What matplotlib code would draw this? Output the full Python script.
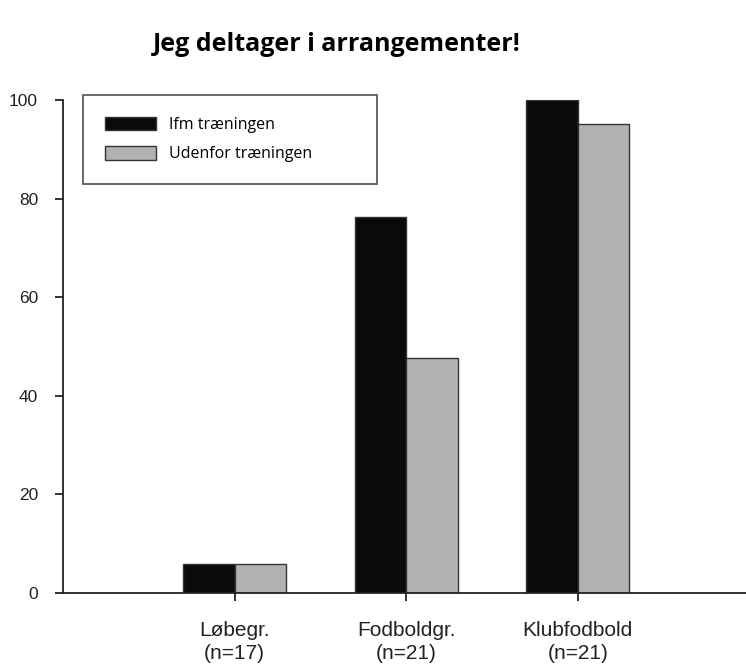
import matplotlib
matplotlib.use("Agg")
import matplotlib.pyplot as plt
import numpy as np

categories = ["Løbegr.\n(n=17)", "Fodboldgr.\n(n=21)", "Klubfodbold\n(n=21)"]
ifm = [5.9, 76.2, 100.0]
udenfor = [5.9, 47.6, 95.2]
series_names = ["Ifm træningen", "Udenfor træningen"]
yticks = [0, 20, 40, 60, 80, 100]

fig = plt.figure(figsize=(7.46, 6.70), dpi=100)
ax = fig.add_axes([63/746, 1-593/670, 1-63/746, 493/670])

x = np.arange(1, len(categories)+1)
w = 0.30
ax.bar(x - w/2, ifm, w, color="#0a0a0a", edgecolor="#333333", linewidth=1, label=series_names[0])
ax.bar(x + w/2, udenfor, w, color="#b2b2b2", edgecolor="#333333", linewidth=1, label=series_names[1])

ax.set_xlim(0, 3.98)
ax.set_ylim(0, 100)
ax.set_xticks(x)
ax.set_xticklabels(categories, fontsize=15, family="Liberation Sans", linespacing=1.3)
ax.set_yticks(yticks)
ax.set_yticklabels([str(v) for v in yticks], fontsize=12.5, family="Liberation Sans")
for s in ["top", "right"]:
    ax.spines[s].set_visible(False)
for s in ["left", "bottom"]:
    ax.spines[s].set_linewidth(1.3)
    ax.spines[s].set_color("#222222")
ax.tick_params(axis="y", direction="out", length=6, width=1.3, pad=12, colors="#222222")
ax.tick_params(axis="x", direction="out", length=6, width=1.3, pad=14, colors="#222222")

# legend frame spans x 83..377 px, y 95..178 px
x0 = (83-63)/683
x1 = (377-63)/683
y1 = (593-95)/493
y0 = (593-178)/493
leg = ax.legend(loc="upper left", bbox_to_anchor=(x0, y0, x1-x0, y1-y0), mode="expand",
                frameon=True, fancybox=False,
                edgecolor="#333333", prop={"family": "Open Sans", "size": 11.5},
                handlelength=3.2, handleheight=0.9, borderpad=1.35, labelspacing=0.85,
                handletextpad=0.85, borderaxespad=0)
leg.get_frame().set_linewidth(1.3)

fig.text(0.452, 0.933, "Jeg deltager i arrangementer!", ha="center", va="center",
         fontsize=18, fontweight="bold", family="Open Sans")

fig.savefig("out.png", dpi=100)
